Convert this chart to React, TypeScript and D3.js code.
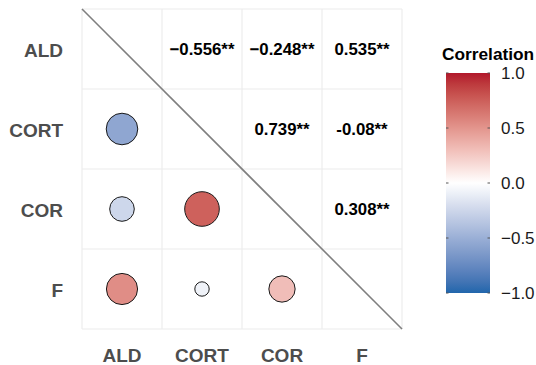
import React from "react";
import * as d3 from "d3";

const variables = ["ALD", "CORT", "COR", "F"];
// Lower-triangle pairs: row, column and correlation coefficient
const pairRows = ["CORT", "COR", "COR", "F", "F", "F"];
const pairCols = ["ALD", "ALD", "CORT", "ALD", "CORT", "COR"];
const pairValues = [-0.556, -0.248, 0.739, 0.535, -0.08, 0.308];
const pairLabels = ["−0.556**", "−0.248**", "0.739**", "0.535**", "-0.08**", "0.308**"];
const legendTicks = [1.0, 0.5, 0.0, -0.5, -1.0];

const W = 536;
const H = 365;
const left = 82;
const top = 9;
const size = 320;

const FONT = "'Liberation Sans', Arial, sans-serif";

export default function App() {
  const x = d3.scaleBand<string>().domain(variables).range([left, left + size]);
  const y = d3.scaleBand<string>().domain(variables).range([top, top + size]);

  const color = (v: number) =>
    v < 0
      ? d3.interpolateLab("#2166AC", "#FFFFFF")(v + 1)
      : d3.interpolateLab("#FFFFFF", "#B2182B")(v);

  // circle area grows with |r| rescaled over the observed range
  const absVals = pairValues.map(Math.abs);
  const norm = d3.scaleLinear().domain(d3.extent(absVals) as [number, number]).range([0, 1]);
  const radius = d3.scaleLinear().domain([0, 1]).range([7.2, 17.3]);
  const r = (v: number) => radius(Math.sqrt(norm(Math.abs(v))));

  const barX = 446;
  const barW = 44;
  const barTop = 73;
  const barBottom = 293;
  const ly = d3.scaleLinear().domain([1, -1]).range([barTop, barBottom]);
  const stops = d3.range(0, 21).map((i) => -1 + i * 0.1);

  const bw = x.bandwidth();

  return (
    <svg width={W} height={H} style={{ position: "absolute", left: 0, top: 0 }}>
      <rect width={W} height={H} fill="#fff" />
      {/* grid */}
      {d3.range(0, variables.length + 1).map((i) => (
        <g key={"g" + i}>
          <line x1={left + i * bw} x2={left + i * bw} y1={top} y2={top + size} stroke="#EBEBEB" strokeWidth={1.1} />
          <line y1={top + i * bw} y2={top + i * bw} x1={left} x2={left + size} stroke="#EBEBEB" strokeWidth={1.1} />
        </g>
      ))}
      {/* diagonal */}
      <line x1={left} y1={top} x2={left + size} y2={top + size} stroke="#7F7F7F" strokeWidth={1.6} />
      {/* circles in lower triangle */}
      {pairValues.map((v, i) => (
        <circle
          key={"c" + i}
          cx={x(pairCols[i])! + bw / 2}
          cy={y(pairRows[i])! + bw / 2}
          r={r(v)}
          fill={color(v)}
          stroke="#1a1a1a"
          strokeWidth={1}
        />
      ))}
      {/* coefficients in upper triangle */}
      {pairValues.map((v, i) => (
        <text
          key={"t" + i}
          x={x(pairRows[i])! + bw / 2}
          y={y(pairCols[i])! + bw / 2}
          textAnchor="middle"
          dominantBaseline="central"
          fontFamily={FONT}
          fontWeight="bold"
          fontSize={16.8}
          fill="#000"
        >
          {pairLabels[i]}
        </text>
      ))}
      {/* axes */}
      {variables.map((v) => (
        <text
          key={"y" + v}
          x={63}
          y={y(v)! + bw / 2 + 1}
          textAnchor="end"
          dominantBaseline="central"
          fontFamily={FONT}
          fontWeight="bold"
          fontSize={19}
          fill="#4D4D4D"
        >
          {v}
        </text>
      ))}
      {variables.map((v) => (
        <text
          key={"x" + v}
          x={x(v)! + bw / 2}
          y={355}
          textAnchor="middle"
          dominantBaseline="central"
          fontFamily={FONT}
          fontWeight="bold"
          fontSize={19}
          fill="#4D4D4D"
        >
          {v}
        </text>
      ))}
      {/* legend */}
      <defs>
        <linearGradient id="corr-grad" x1="0" y1="1" x2="0" y2="0">
          {stops.map((s, i) => (
            <stop key={i} offset={`${((s + 1) / 2) * 100}%`} stopColor={color(s)} />
          ))}
        </linearGradient>
      </defs>
      <text x={442} y={60} fontFamily={FONT} fontWeight="bold" fontSize={17.3} fill="#000">
        Correlation
      </text>
      <rect x={barX} y={barTop} width={barW} height={barBottom - barTop} fill="url(#corr-grad)" />
      {legendTicks.map((t) => (
        <g key={"l" + t}>
          <line x1={barX} x2={barX + 2.5} y1={ly(t)} y2={ly(t)} stroke="#555" strokeWidth={1} />
          <line x1={barX + barW - 2.5} x2={barX + barW} y1={ly(t)} y2={ly(t)} stroke="#555" strokeWidth={1} />
          <text
            x={501}
            y={ly(t)}
            dominantBaseline="central"
            fontFamily={FONT}
            fontSize={17}
            fill="#1a1a1a"
          >
            {t < 0 ? "−" + Math.abs(t).toFixed(1) : t.toFixed(1)}
          </text>
        </g>
      ))}
    </svg>
  );
}
